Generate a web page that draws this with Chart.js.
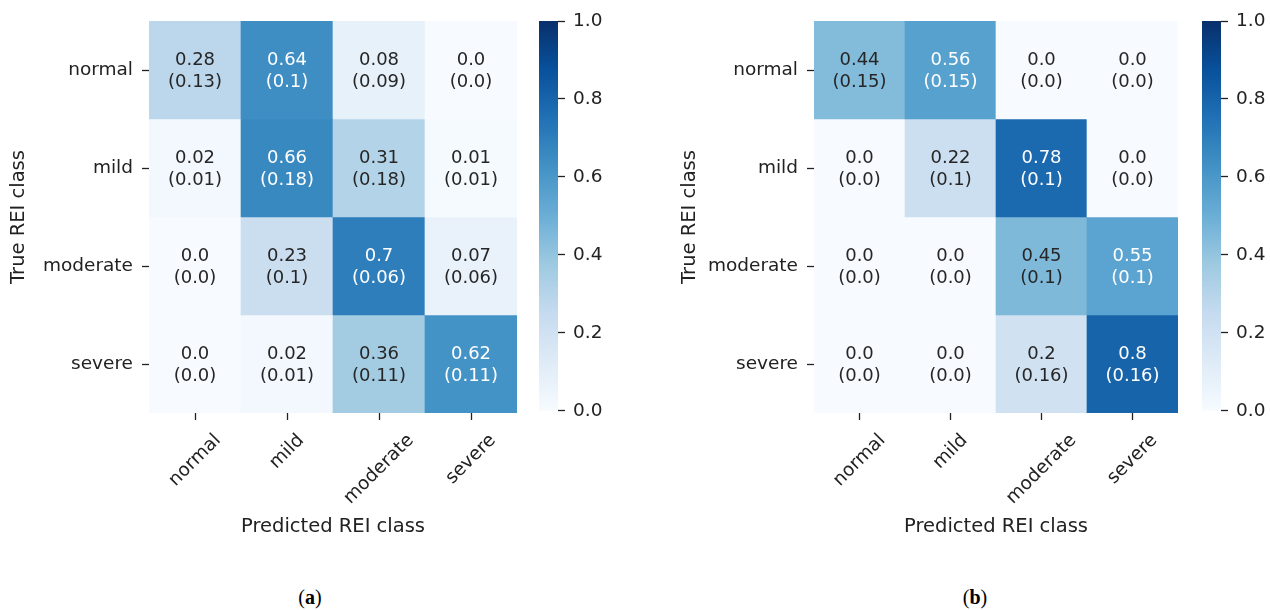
<!DOCTYPE html>
<html>
<head>
<meta charset="utf-8">
<script src="https://cdn.jsdelivr.net/npm/chart.js@4.4.1/dist/chart.umd.min.js"></script>
<style>
  html, body { margin: 0; padding: 0; background: #fff; }
  body { width: 1270px; height: 610px; position: relative; overflow: hidden; }
  canvas { position: absolute; }
  .cap { position: absolute; width: 60px; text-align: center; font: 20px/22px "Liberation Serif", serif; color: #000; }
</style>
</head>
<body>
<canvas id="hmA" width="530" height="560" style="left:0px;top:0px"></canvas>
<canvas id="cbA" width="90" height="430" style="left:539px;top:0px"></canvas>
<canvas id="hmB" width="520" height="560" style="left:671px;top:0px"></canvas>
<canvas id="cbB" width="68" height="430" style="left:1202px;top:0px"></canvas>
<div class="cap" style="left:280px;top:586px">(<b>a</b>)</div>
<div class="cap" style="left:945px;top:586px">(<b>b</b>)</div>
<script>
// class names (rows = true, columns = predicted)
var classes = ["normal", "mild", "moderate", "severe"];

// (a) mean values and std in brackets
var meanA = [
    [0.28, 0.64, 0.08, 0.0],
    [0.02, 0.66, 0.31, 0.01],
    [0.0, 0.23, 0.7, 0.07],
    [0.0, 0.02, 0.36, 0.62]
];
var sdA = [
    [0.13, 0.1, 0.09, 0.0],
    [0.01, 0.18, 0.18, 0.01],
    [0.0, 0.1, 0.06, 0.06],
    [0.0, 0.01, 0.11, 0.11]
];

// (b)
var meanB = [
    [0.44, 0.56, 0.0, 0.0],
    [0.0, 0.22, 0.78, 0.0],
    [0.0, 0.0, 0.45, 0.55],
    [0.0, 0.0, 0.2, 0.8]
];
var sdB = [
    [0.15, 0.15, 0.0, 0.0],
    [0.0, 0.1, 0.1, 0.0],
    [0.0, 0.0, 0.1, 0.1],
    [0.0, 0.0, 0.16, 0.16]
];

var cbarTicks = [0.0, 0.2, 0.4, 0.6, 0.8, 1.0];

// matplotlib "Blues"
var bluesStops = ["#f7fbff", "#deebf7", "#c6dbef", "#9ecae1", "#6baed6", "#4292c6", "#2171b5", "#08519c", "#08306b"];

Chart.defaults.font.family = "'DejaVu Sans', sans-serif";
Chart.defaults.font.size = 18;
Chart.defaults.color = "#222";

function hexRgb(h) {
    return [parseInt(h.substr(1, 2), 16), parseInt(h.substr(3, 2), 16), parseInt(h.substr(5, 2), 16)];
}

function bluesRgb(v) {
    var p = Math.max(0, Math.min(1, v)) * (bluesStops.length - 1);
    var i = Math.min(Math.floor(p), bluesStops.length - 2);
    var t = p - i;
    var a = hexRgb(bluesStops[i]), b = hexRgb(bluesStops[i + 1]);
    return a.map(function (c, k) { return c + (b[k] - c) * t; });
}

function blues(v) {
    var c = bluesRgb(v);
    return "rgb(" + c.map(Math.round).join(",") + ")";
}

// same rule as seaborn for annotation colour
function textColor(v) {
    var lin = bluesRgb(v).map(function (c) {
        c = c / 255;
        return c <= 0.03928 ? c / 12.92 : Math.pow((c + 0.055) / 1.055, 2.4);
    });
    var lum = 0.2126 * lin[0] + 0.7152 * lin[1] + 0.0722 * lin[2];
    return lum > 0.408 ? "#262626" : "#ffffff";
}

function fmt(v) {
    return Number.isInteger(v) ? v.toFixed(1) : String(v);
}

function heatmap(id, mean, sd, yAxisWidth) {
    var datasets = classes.map(function (rowName, r) {
        return {
            label: rowName,
            data: classes.map(function () { return [r, r + 1]; }),
            backgroundColor: mean[r].map(blues),
            borderWidth: 0,
            borderSkipped: false,
            barPercentage: 1,
            categoryPercentage: 1,
            grouped: false
        };
    });

    var cellText = {
        id: "cellText",
        afterDatasetsDraw: function (chart) {
            var ctx = chart.ctx;
            ctx.save();
            ctx.font = "18px 'DejaVu Sans', sans-serif";
            ctx.textAlign = "center";
            ctx.textBaseline = "alphabetic";
            chart.data.datasets.forEach(function (ds, r) {
                chart.getDatasetMeta(r).data.forEach(function (el, c) {
                    var p = el.getCenterPoint();
                    ctx.fillStyle = textColor(mean[r][c]);
                    ctx.fillText(fmt(mean[r][c]), p.x, p.y - 5);
                    ctx.fillText("(" + fmt(sd[r][c]) + ")", p.x, p.y + 17);
                });
            });
            ctx.restore();
        }
    };

    // rotated x labels, centred under the tick like matplotlib
    var xLabels = {
        id: "xLabels",
        afterDraw: function (chart) {
            var ctx = chart.ctx;
            var sc = chart.scales.x;
            ctx.save();
            ctx.font = "18.5px 'DejaVu Sans', sans-serif";
            ctx.fillStyle = "#222";
            ctx.textAlign = "center";
            ctx.textBaseline = "middle";
            classes.forEach(function (name, i) {
                var x = sc.getPixelForTick(i);
                var w = ctx.measureText(name).width;
                var d = (w + 21) * Math.SQRT1_2;
                var y = chart.chartArea.bottom + 17 + d / 2;
                ctx.save();
                ctx.translate(x, y);
                ctx.rotate(-Math.PI / 4);
                ctx.fillText(name, 0, 0);
                ctx.restore();
            });
            ctx.restore();
        }
    };

    return new Chart(document.getElementById(id), {
        type: "bar",
        data: { labels: classes, datasets: datasets },
        options: {
            responsive: false,
            animation: false,
            events: [],
            layout: { padding: { top: 21, right: 13, left: 0, bottom: 0 } },
            plugins: {
                legend: { display: false },
                tooltip: { enabled: false }
            },
            scales: {
                x: {
                    grid: { offset: false, drawOnChartArea: false, tickLength: 7, tickColor: "#222", tickWidth: 1.3 },
                    border: { display: false },
                    ticks: { display: false },
                    title: {
                        display: true,
                        text: "Predicted REI class",
                        color: "#222",
                        font: { size: 19.5 },
                        padding: { top: 0, bottom: 21 }
                    },
                    afterFit: function (s) { s.height = 147; }
                },
                y: {
                    min: 0,
                    max: 4,
                    reverse: true,
                    afterBuildTicks: function (s) {
                        s.ticks = classes.map(function (c, i) { return { value: i + 0.5 }; });
                    },
                    ticks: {
                        padding: 9,
                        color: "#222",
                        font: { size: 18.5 },
                        callback: function (v) { return classes[Math.floor(v)]; }
                    },
                    grid: { drawOnChartArea: false, tickLength: 7, tickColor: "#222", tickWidth: 1.3 },
                    border: { display: false },
                    title: {
                        display: true,
                        text: "True REI class",
                        color: "#222",
                        font: { size: 19.5 },
                        padding: { top: 7, bottom: 0 }
                    },
                    afterFit: function (s) { s.width = yAxisWidth; }
                }
            }
        },
        plugins: [cellText, xLabels]
    });
}

function colorbar(id) {
    return new Chart(document.getElementById(id), {
        type: "bar",
        data: {
            labels: [""],
            datasets: [{
                data: [[0, 1]],
                borderWidth: 0,
                borderSkipped: false,
                barPercentage: 1,
                categoryPercentage: 1,
                backgroundColor: function (c) {
                    var area = c.chart.chartArea;
                    if (!area) return bluesStops[4];
                    var g = c.chart.ctx.createLinearGradient(0, area.bottom, 0, area.top);
                    bluesStops.forEach(function (col, i) { g.addColorStop(i / (bluesStops.length - 1), col); });
                    return g;
                }
            }]
        },
        options: {
            responsive: false,
            animation: false,
            events: [],
            layout: { padding: { top: 21, bottom: 17, left: 0, right: 0 } },
            plugins: {
                legend: { display: false },
                tooltip: { enabled: false }
            },
            scales: {
                x: { display: false },
                y: {
                    position: "right",
                    min: 0,
                    max: 1,
                    afterBuildTicks: function (s) {
                        s.ticks = cbarTicks.map(function (v) { return { value: v }; });
                    },
                    ticks: {
                        padding: 8,
                        color: "#222",
                        font: { size: 18.5 },
                        callback: function (v) { return v.toFixed(1); }
                    },
                    grid: { drawOnChartArea: false, tickLength: 7, tickColor: "#222", tickWidth: 1.3 },
                    border: { display: false },
                    afterFit: function (s) { s.width = id === "cbA" ? 71 : 49; }
                }
            }
        }
    });
}

heatmap("hmA", meanA, sdA, 149);
colorbar("cbA");
heatmap("hmB", meanB, sdB, 143);
colorbar("cbB");
</script>
</body>
</html>
